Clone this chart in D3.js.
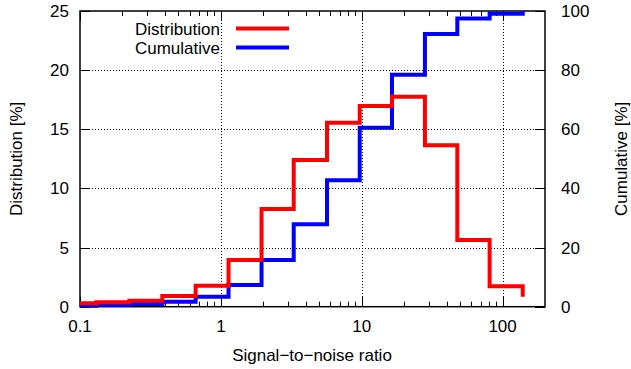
<!DOCTYPE html>
<html>
<head>
<meta charset="utf-8">
<script src="https://cdn.jsdelivr.net/npm/d3@7"></script>
<style>
  body { margin: 0; background: #fff; }
  text { font-family: "Liberation Sans", Arial, sans-serif; fill: #000; }
</style>
</head>
<body>
<svg id="chart" width="631" height="369"></svg>
<script>
// step positions (SNR) and values
var snr = [0.1, 0.131, 0.224, 0.384, 0.662, 1.134, 1.944, 3.29, 5.67, 9.68, 16.4, 28.1, 47.7, 80.9, 139];
var distribution = [0.29, 0.37, 0.5, 0.9, 1.78, 3.95, 8.26, 12.4, 15.55, 16.97, 17.75, 13.64, 5.64, 1.72, 0.85];
var cumulative = [0.3, 0.6, 0.9, 1.7, 3.4, 7.3, 15.8, 27.9, 42.8, 60.5, 78.4, 92.2, 97.5, 99.1, 100];

var xTicks = [0.1, 1, 10, 100];
var leftTicks = [0, 5, 10, 15, 20, 25];
var rightTicks = [0, 20, 40, 60, 80, 100];

var svg = d3.select('#chart');
var pLeft = 80, pRight = 545, pTop = 11, pBottom = 306.7;
var fs = 17;

var x = d3.scaleLog().domain([0.1, 200]).range([pLeft, pRight]);
var yL = d3.scaleLinear().domain([0, 25]).range([pBottom, pTop]);
var yR = d3.scaleLinear().domain([0, 100]).range([pBottom, pTop]);

// grid (dotted)
var grid = svg.append('g')
    .attr('stroke', '#000')
    .attr('stroke-width', 1)
    .attr('stroke-dasharray', '1,2');
grid.selectAll('line.gx')
    .data(xTicks.filter(d => d > 0.1))
    .enter().append('line')
    .attr('x1', d => Math.round(x(d)) + 0.5).attr('x2', d => Math.round(x(d)) + 0.5)
    .attr('y1', pTop).attr('y2', pBottom);
grid.selectAll('line.gy')
    .data(leftTicks.filter(d => d > 0 && d < 25))
    .enter().append('line')
    .attr('x1', pLeft).attr('x2', pRight)
    .attr('y1', d => Math.round(yL(d)) + 0.5).attr('y2', d => Math.round(yL(d)) + 0.5);

// minor ticks on log axis
var minor = [];
[0.1, 1, 10, 100].forEach(function(dec) {
  for (var k = 2; k <= 9; k++) if (dec * k < 200) minor.push(dec * k);
});

var ticks = svg.append('g').attr('stroke', '#000').attr('stroke-width', 1);
// bottom & top
[pBottom, pTop].forEach(function(y0) {
  var dir = y0 === pBottom ? -1 : 1;
  ticks.append('g').selectAll('line')
    .data(xTicks).enter().append('line')
    .attr('x1', d => Math.round(x(d)) + 0.5).attr('x2', d => Math.round(x(d)) + 0.5)
    .attr('y1', y0).attr('y2', y0 + dir * 10);
  ticks.append('g').selectAll('line')
    .data(minor).enter().append('line')
    .attr('x1', d => Math.round(x(d)) + 0.5).attr('x2', d => Math.round(x(d)) + 0.5)
    .attr('y1', y0).attr('y2', y0 + dir * 5);
});
ticks.append('g').selectAll('line')
  .data(leftTicks).enter().append('line')
  .attr('x1', pLeft).attr('x2', pLeft + 10)
  .attr('y1', d => Math.round(yL(d)) + 0.5).attr('y2', d => Math.round(yL(d)) + 0.5);
ticks.append('g').selectAll('line')
  .data(rightTicks).enter().append('line')
  .attr('x1', pRight).attr('x2', pRight - 10)
  .attr('y1', d => Math.round(yR(d)) + 0.5).attr('y2', d => Math.round(yR(d)) + 0.5);

// frame
svg.append('rect')
  .attr('x', pLeft).attr('y', pTop)
  .attr('width', pRight - pLeft).attr('height', pBottom - pTop)
  .attr('fill', 'none').attr('stroke', '#000').attr('stroke-width', 1.5);

// tick labels
svg.append('g').selectAll('text')
  .data(xTicks).enter().append('text')
  .attr('x', d => x(d)).attr('y', 332)
  .attr('text-anchor', 'middle').attr('font-size', fs)
  .text(d => d);
svg.append('g').selectAll('text')
  .data(leftTicks).enter().append('text')
  .attr('x', 69).attr('y', d => yL(d) + 6)
  .attr('text-anchor', 'end').attr('font-size', fs)
  .text(d => d);
svg.append('g').selectAll('text')
  .data(rightTicks).enter().append('text')
  .attr('x', 561).attr('y', d => yR(d) + 6)
  .attr('text-anchor', 'start').attr('font-size', fs)
  .text(d => d);

// axis titles
svg.append('text')
  .attr('x', 312).attr('y', 361)
  .attr('text-anchor', 'middle').attr('font-size', fs)
  .text('Signal\u2212to\u2212noise ratio');
svg.append('text')
  .attr('transform', 'translate(22,' + ((pTop + pBottom) / 2) + ') rotate(-90)')
  .attr('text-anchor', 'middle').attr('font-size', fs)
  .text('Distribution [%]');
svg.append('text')
  .attr('transform', 'translate(627,' + ((pTop + pBottom) / 2) + ') rotate(-90)')
  .attr('text-anchor', 'middle').attr('font-size', fs)
  .text('Cumulative [%]');

// step lines
var lineL = d3.line().curve(d3.curveStepAfter)
  .x(d => x(d[0])).y(d => yL(d[1]));
var lineR = d3.line().curve(d3.curveStepAfter)
  .x(d => x(d[0])).y(d => yR(d[1]));

svg.append('path')
  .datum(snr.map((s, i) => [s, cumulative[i]]))
  .attr('d', lineR)
  .attr('fill', 'none').attr('stroke', '#0000ff').attr('stroke-width', 4);
svg.append('path')
  .datum(snr.map((s, i) => [s, distribution[i]]))
  .attr('d', lineL)
  .attr('fill', 'none').attr('stroke', '#ff0000').attr('stroke-width', 4);

// legend
var legend = [['Distribution', '#ff0000'], ['Cumulative', '#0000ff']];
var lg = svg.append('g').selectAll('g')
  .data(legend).enter().append('g')
  .attr('transform', (d, i) => 'translate(0,' + (28.5 + i * 19) + ')');
lg.append('text')
  .attr('x', 220).attr('y', 6)
  .attr('text-anchor', 'end').attr('font-size', fs)
  .text(d => d[0]);
lg.append('line')
  .attr('x1', 236).attr('x2', 289)
  .attr('stroke', d => d[1]).attr('stroke-width', 4);
</script>
</body>
</html>
